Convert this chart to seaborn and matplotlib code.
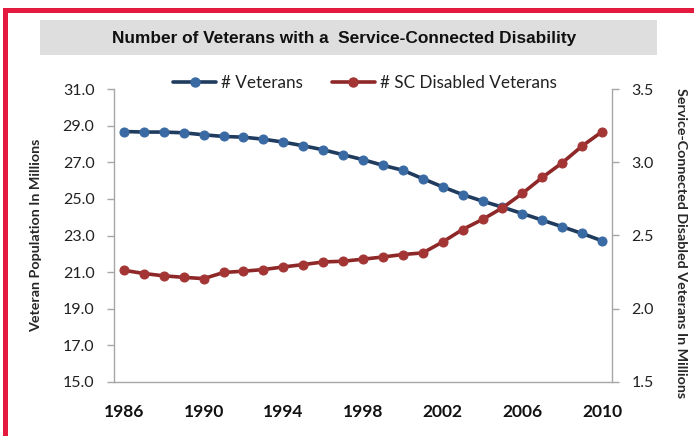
import matplotlib
matplotlib.use("Agg")
import matplotlib.pyplot as plt
import seaborn as sns
import pandas as pd
from matplotlib.patches import Rectangle
from matplotlib.lines import Line2D

years = list(range(1986, 2011))
veterans = [28.69, 28.66, 28.66, 28.62, 28.51, 28.42, 28.38, 28.27, 28.11, 27.91,
            27.69, 27.42, 27.15, 26.84, 26.57, 26.11, 25.66, 25.24, 24.88, 24.55,
            24.20, 23.84, 23.48, 23.11, 22.71]
sc_disabled = [2.262, 2.240, 2.224, 2.214, 2.205, 2.247, 2.256, 2.267, 2.285, 2.301,
               2.319, 2.324, 2.338, 2.353, 2.370, 2.381, 2.456, 2.541, 2.610, 2.689,
               2.788, 2.897, 2.997, 3.112, 3.210]
x_ticks = [1986, 1990, 1994, 1998, 2002, 2006, 2010]
left_ticks = [15.0, 17.0, 19.0, 21.0, 23.0, 25.0, 27.0, 29.0, 31.0]
right_ticks = [1.5, 2.0, 2.5, 3.0, 3.5]
title = "Number of Veterans with a  Service-Connected Disability"
label_vets = "# Veterans"
label_sc = "# SC Disabled Veterans"

df = pd.DataFrame({"year": years, "veterans": veterans, "sc": sc_disabled})

sns.set_theme(style="white")
plt.rcParams['font.family'] = ['Lato', 'DejaVu Sans']

fig = plt.figure(figsize=(6.94, 4.36), dpi=100)
W, H = 694, 436
ax = fig.add_axes([114 / W, 1 - 381.7 / H, (612 - 114) / W, (381.7 - 89.3) / H])
ax2 = ax.twinx()

blue_line = "#1F3B5E"
blue_mark = "#3A6AA3"
red_line = "#8E2828"
red_mark = "#A33535"

sns.lineplot(data=df, x="year", y="veterans", ax=ax, color=blue_line, linewidth=2.6,
             marker="o", markersize=6.5, markerfacecolor=blue_mark, markeredgecolor=blue_mark,
             legend=False)
sns.lineplot(data=df, x="year", y="sc", ax=ax2, color=red_line, linewidth=2.6,
             marker="o", markersize=6.5, markerfacecolor=red_mark, markeredgecolor=red_mark,
             legend=False)

ax.set_xlim(1985.5, 2010.5)
ax.set_ylim(15, 31)
ax2.set_ylim(1.5, 3.5)
ax.set_xticks(x_ticks)
ax.set_xticklabels([str(t) for t in x_ticks], fontweight="bold", fontsize=12.5)
ax.set_yticks(left_ticks)
ax.set_yticklabels([f"{t:.1f}" for t in left_ticks], fontsize=11.5)
ax2.set_yticks(right_ticks)
ax2.set_yticklabels([f"{t:.1f}" for t in right_ticks], fontsize=11.5)

spine_col = "#A6A6A6"
for a in (ax, ax2):
    for s in a.spines.values():
        s.set_visible(False)
    a.set_facecolor("none")
    a.grid(False)
ax.spines["left"].set_visible(True)
ax.spines["bottom"].set_visible(True)
ax2.spines["right"].set_visible(True)
for s in (ax.spines["left"], ax.spines["bottom"], ax2.spines["right"]):
    s.set_color(spine_col)
    s.set_linewidth(1.0)

ax.tick_params(axis="y", left=True, length=5, width=1, color=spine_col, pad=9, labelcolor="#222222")
ax.tick_params(axis="x", bottom=False, pad=10, labelcolor="#111111")
ax2.tick_params(axis="y", right=True, length=5, width=1, color=spine_col, pad=9, labelcolor="#222222")

ax.set_xlabel("")
ax.set_ylabel("Veteran Population In Millions", fontweight="bold", fontsize=10.3)
ax2.set_ylabel("Service-Connected Disabled Veterans In Millions", fontweight="bold",
               fontsize=10.3, rotation=270)
ax.yaxis.set_label_coords(-(114 - 42) / (612 - 114), 0.5)
ax2.yaxis.set_label_coords(1 + (687 - 612) / (612 - 114), 0.475)

# title box
fig.patches.append(Rectangle((40 / W, 1 - 55 / H), (657 - 40) / W, 35 / H,
                             transform=fig.transFigure, facecolor="#DEDEDE",
                             edgecolor="none", zorder=0))
fig.text(344 / W, 1 - 38 / H, title, ha="center", va="center", fontsize=12.4,
         fontweight="bold", family=["Liberation Sans Narrow", "Liberation Sans", "DejaVu Sans"],
         color="#111111")

# red border
border = "#E3193D"
fig.patches.append(Rectangle((3 / W, 0), 5 / W, 1 - 8 / H, transform=fig.transFigure,
                             facecolor=border, edgecolor="none", zorder=5))
fig.patches.append(Rectangle((3 / W, 1 - 13 / H), 1, 5 / H, transform=fig.transFigure,
                             facecolor=border, edgecolor="none", zorder=5))

handles = [
    Line2D([], [], color=blue_line, linewidth=2.6, marker="o", markersize=6.5,
           markerfacecolor=blue_mark, markeredgecolor=blue_mark),
    Line2D([], [], color=red_line, linewidth=2.6, marker="o", markersize=6.5,
           markerfacecolor=red_mark, markeredgecolor=red_mark),
]
fig.legend(handles, [label_vets, label_sc], loc="center", ncol=2, frameon=False,
           bbox_to_anchor=(365 / W, 1 - 83 / H), fontsize=12.3, handlelength=2.5,
           handletextpad=0.3, columnspacing=1.7, borderpad=0, labelcolor="#222222")

fig.savefig("out.png", dpi=100)
